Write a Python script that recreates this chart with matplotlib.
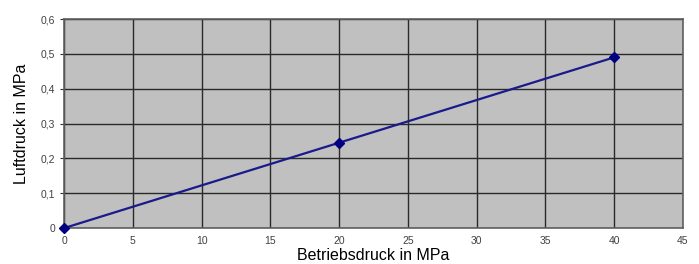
import matplotlib
matplotlib.use("Agg")
import matplotlib.pyplot as plt
from matplotlib.ticker import MultipleLocator, FuncFormatter

plt.rcParams['font.family'] = ['Liberation Sans', 'DejaVu Sans']

# Betriebsdruck (MPa) vs. Luftdruck (MPa)
betriebsdruck = [0, 20, 40]
luftdruck = [0.0, 0.245, 0.49]

fig = plt.figure(figsize=(6.99, 2.64), dpi=100)
ax = fig.add_axes([0.0916, 0.136, 0.8855, 0.792])
ax.set_facecolor('#c0c0c0')

ax.plot(betriebsdruck, luftdruck, color='#1a1a8c', linewidth=1.6,
        marker='D', markersize=5.5, markerfacecolor='#000080',
        markeredgecolor='#000080', clip_on=False, zorder=3)

ax.set_xlim(0, 45)
ax.set_ylim(0, 0.6)
ax.xaxis.set_major_locator(MultipleLocator(5))
ax.yaxis.set_major_locator(MultipleLocator(0.1))
ax.yaxis.set_major_formatter(FuncFormatter(
    lambda v, p: '0' if abs(v) < 1e-9 else f'{v:.1f}'.replace('.', ',')))

ax.grid(True, color='#2a2a2a', linewidth=1.0)
ax.set_axisbelow(True)
for s in ax.spines.values():
    s.set_color('#606060')
    s.set_linewidth(1.2)

ax.tick_params(axis='both', labelsize=7.5, colors='#303030', length=3,
               width=0.8, labelcolor='#404040')
ax.tick_params(axis='x', length=0, pad=6)

ax.set_xlabel('Betriebsdruck in MPa', fontsize=11.5, labelpad=1)
ax.set_ylabel('Luftdruck in MPa', fontsize=11.5, labelpad=8)

fig.savefig('out.png', dpi=100)
